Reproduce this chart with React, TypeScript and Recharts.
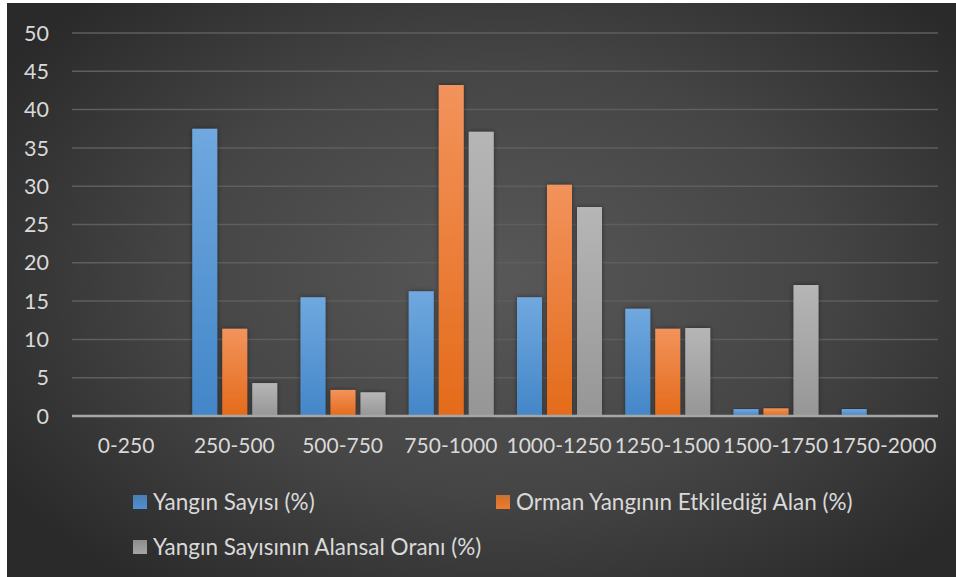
import { BarChart, Bar, XAxis, YAxis, CartesianGrid, Legend } from 'recharts';

const categories = ['0-250', '250-500', '500-750', '750-1000', '1000-1250', '1250-1500', '1500-1750', '1750-2000'];
const yanginSayisi = [0, 37.5, 15.5, 16.3, 15.5, 14.0, 0.9, 0.9];
const etkiledigiAlan = [0, 11.4, 3.4, 43.2, 30.2, 11.4, 1.0, 0];
const alansalOran = [0, 4.3, 3.1, 37.1, 27.3, 11.5, 17.1, 0];
const yTicks = [0, 5, 10, 15, 20, 25, 30, 35, 40, 45, 50];

const series = [
  { key: 'sayi', name: 'Yangın Sayısı (%)', grad: 'gBlue', color: '#4f90d2' },
  { key: 'alan', name: 'Orman Yangının Etkilediği Alan (%)', grad: 'gOrange', color: '#ee7b2c' },
  { key: 'oran', name: 'Yangın Sayısının Alansal Oranı (%)', grad: 'gGray', color: '#a5a5a5' },
];

const data = categories.map((c, i) => ({
  name: c,
  sayi: yanginSayisi[i],
  alan: etkiledigiAlan[i],
  oran: alansalOran[i],
}));

const FONT = 'Lato, "Open Sans", sans-serif';
const TEXT = '#d9d9d9';

// two-row legend: first two entries on one line, the third below
const LegendRows = () => {
  const item = (s: typeof series[number], x: number, y: number) => (
    <div key={s.key} style={{ position: 'absolute', left: x, top: y, display: 'flex', alignItems: 'center', whiteSpace: 'nowrap' }}>
      <span style={{ width: 14, height: 14, background: `linear-gradient(${s.color}cc, ${s.color})`, marginRight: 6 }} />
      <span style={{ color: TEXT, fontSize: 22.5, fontFamily: FONT, lineHeight: '24px' }}>{s.name}</span>
    </div>
  );
  return (
    <div style={{ position: 'relative', width: 949, height: 90 }}>
      {item(series[0], 126, 0)}
      {item(series[1], 489, 0)}
      {item(series[2], 126, 45)}
    </div>
  );
};

export default function App() {
  return (
    <div
      style={{
        position: 'absolute',
        left: 7,
        top: 3,
        width: 949,
        height: 574,
        background: 'radial-gradient(ellipse 62% 68% at 52% 48%, #585858 0%, #454545 55%, #2a2a2a 100%)',
      }}
    >
      <BarChart
        width={949}
        height={574}
        data={data}
        margin={{ top: 30, right: 18, bottom: 130, left: 0 }}
        barSize={25}
        barGap={5}
      >
        <defs>
          <linearGradient id="gBlue" x1="0" y1="0" x2="0" y2="1">
            <stop offset="0%" stopColor="#70a8df" />
            <stop offset="100%" stopColor="#4386c8" />
          </linearGradient>
          <linearGradient id="gOrange" x1="0" y1="0" x2="0" y2="1">
            <stop offset="0%" stopColor="#f2935c" />
            <stop offset="100%" stopColor="#e46b1a" />
          </linearGradient>
          <linearGradient id="gGray" x1="0" y1="0" x2="0" y2="1">
            <stop offset="0%" stopColor="#b6b6b6" />
            <stop offset="100%" stopColor="#969696" />
          </linearGradient>
          <filter id="barShadow" x="-40%" y="-10%" width="180%" height="120%">
            <feDropShadow dx="0" dy="0" stdDeviation="2.5" floodColor="#000" floodOpacity="0.45" />
          </filter>
        </defs>
        <CartesianGrid vertical={false} stroke="#5e5e5e" strokeWidth={1.5} />
        <XAxis
          dataKey="name"
          height={31}
          tickLine={false}
          axisLine={{ stroke: '#a6a6a6', strokeWidth: 2.5 }}
          tickMargin={16}
          tick={{ fill: TEXT, fontSize: 21, fontFamily: FONT }}
          interval={0}
        />
        <YAxis
          width={65}
          domain={[0, 50]}
          ticks={yTicks}
          tickLine={false}
          axisLine={false}
          tickMargin={17}
          tick={{ fill: TEXT, fontSize: 21.5, fontFamily: FONT }}
        />
        <Legend
          layout="horizontal"
          verticalAlign="middle"
          align="center"
          wrapperStyle={{ top: 487, left: 0, width: 949 }}
          content={() => <LegendRows />}
        />
        {series.map((s) => (
          <Bar
            key={s.key}
            dataKey={s.key}
            name={s.name}
            fill={`url(#${s.grad})`}
            filter="url(#barShadow)"
            isAnimationActive={false}
          />
        ))}
      </BarChart>
    </div>
  );
}
